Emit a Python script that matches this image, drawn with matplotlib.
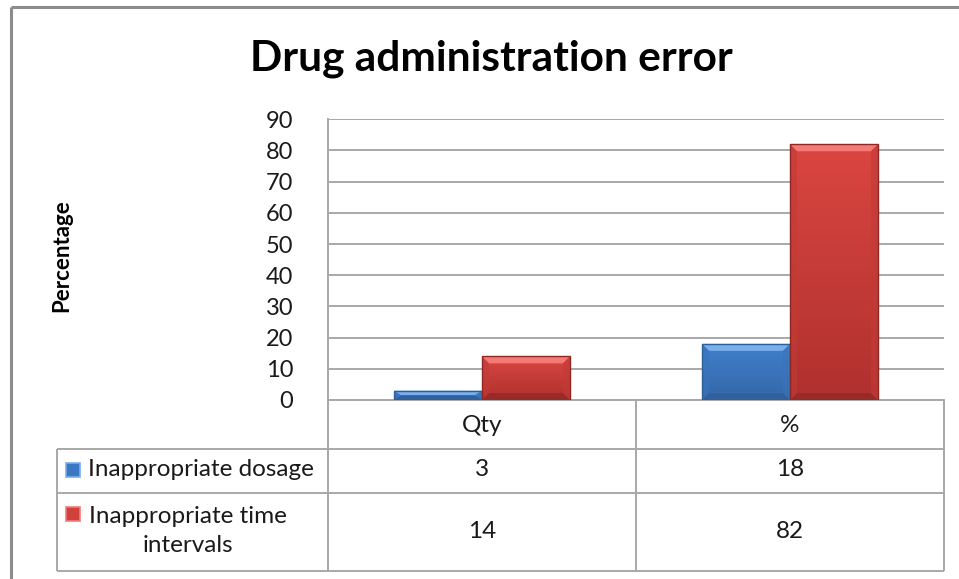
import numpy as np
import matplotlib
matplotlib.use('Agg')
import matplotlib.pyplot as plt
from matplotlib.patches import Polygon, Rectangle
from matplotlib.colors import LinearSegmentedColormap

# ---------------- data ----------------
categories = ['Qty', '%']
series_names = ['Inappropriate dosage', 'Inappropriate time\nintervals']
dosage = [3, 18]
time_intervals = [14, 82]
yticks = list(range(0, 100, 10))
title = 'Drug administration error'
ylabel = 'Percentage'

# ---------------- styles ----------------
W, H = 959, 579
FONT = ['Lato', 'DejaVu Sans']
plt.rcParams['font.family'] = FONT
GRID = '#A8A8A8'
TXT = '#1a1a1a'
FS = 17.5
styles = [
    dict(base='#3C78C2', top='#4080CC', bot='#3468A8', light='#79AFEB', dark='#30609E', side='#3A74BA', edge='#2E5E98'),
    dict(base='#D0403C', top='#DA4641', bot='#B0312E', light='#F47A75', dark='#982B28', side='#C23B37', edge='#8E2825'),
]

fig = plt.figure(figsize=(W / 100, H / 100), dpi=100)


def fx(px):
    return px / W


def fy(py):
    return 1 - py / H


ax = fig.add_axes([fx(328), fy(400), fx(944) - fx(328), fy(119.3) - fy(400)])
x = np.arange(len(categories))
bw = 88 / 308
bars = [
    ax.bar(x - bw / 2, dosage, bw, color=styles[0]['base'], zorder=3, linewidth=0),
    ax.bar(x + bw / 2, time_intervals, bw, color=styles[1]['base'], zorder=3, linewidth=0),
]
ax.set_xlim(-0.5, len(categories) - 0.5)
ax.set_ylim(0, 90)
ax.set_yticks(yticks)
ax.set_xticks([])
ax.yaxis.grid(True, color=GRID, lw=1.4)
ax.set_axisbelow(True)
for s in ['top', 'right']:
    ax.spines[s].set_visible(False)
for s in ['left', 'bottom']:
    ax.spines[s].set_color(GRID)
    ax.spines[s].set_linewidth(1.4)
ax.tick_params(axis='y', length=0, pad=25, labelsize=17, labelcolor=TXT)


def bevel(ax, patch, st, px=7):
    x0, y0 = patch.get_x(), patch.get_y()
    w, h = patch.get_width(), patch.get_height()
    inv = ax.transData.inverted()
    p0 = inv.transform((0, 0))
    p1 = inv.transform((px, px))
    bx = min(p1[0] - p0[0], w / 2)
    by = min(p1[1] - p0[1], h / 2)
    cmap = LinearSegmentedColormap.from_list('g', [st['bot'], st['top']])
    im = ax.imshow(np.linspace(0, 1, 64).reshape(-1, 1), cmap=cmap, origin='lower',
                   extent=(x0, x0 + w, y0, y0 + h), aspect='auto', zorder=3.1)
    im.set_clip_path(patch)
    xt, yt = x0 + w, y0 + h
    ax.add_patch(Polygon([(x0, yt), (xt, yt), (xt - bx, yt - by), (x0 + bx, yt - by)],
                         closed=True, color=st['light'], lw=0, zorder=3.2))
    ax.add_patch(Polygon([(x0, y0), (xt, y0), (xt - bx, y0 + by), (x0 + bx, y0 + by)],
                         closed=True, color=st['dark'], lw=0, zorder=3.2))
    ax.add_patch(Polygon([(x0, y0), (x0 + bx, y0 + by), (x0 + bx, yt - by), (x0, yt)],
                         closed=True, color=st['side'], lw=0, alpha=0.6, zorder=3.2))
    ax.add_patch(Polygon([(xt, y0), (xt - bx, y0 + by), (xt - bx, yt - by), (xt, yt)],
                         closed=True, color=st['side'], lw=0, alpha=0.6, zorder=3.2))
    ax.add_patch(Rectangle((x0, y0), w, h, fill=False, ec=st['edge'], lw=1.0, zorder=3.3))


for bc, st in zip(bars, styles):
    for p in bc:
        bevel(ax, p, st)
ax.set_xlim(-0.5, len(categories) - 0.5)
ax.set_ylim(0, 90)

# ---------------- overlay (title, label, table, frame) ----------------
ov = fig.add_axes([0, 0, 1, 1], zorder=-1)
ov.set_xlim(0, W)
ov.set_ylim(H, 0)
ov.axis('off')

ov.text(491, 59, title, ha='center', va='center', fontsize=30.5, fontweight='bold', color='black')
ov.text(62, 256, ylabel, ha='center', va='center', rotation=90, fontsize=16,
        fontweight='bold', color='black')

# frame
ov.plot([11, W], [6.5, 6.5], color='#8C8C8C', lw=2.2, solid_capstyle='butt')
ov.plot([11, 11], [6.5, H], color='#8C8C8C', lw=2.2, solid_capstyle='butt')

# table grid
tl = dict(color=GRID, lw=1.4, solid_capstyle='butt')
col_x = [57, 328, 636, 944]
row_y = [400, 449, 493, 571]
for cx in col_x[1:]:
    ov.plot([cx, cx], [row_y[0], row_y[-1]], **tl)
ov.plot([col_x[0], col_x[0]], [row_y[1], row_y[-1]], **tl)
for ry in row_y[1:]:
    ov.plot([col_x[0], col_x[-1]], [ry, ry], **tl)

col_c = [(col_x[i + 1] + col_x[i + 2]) / 2 for i in range(len(categories))]
for c, cat in zip(col_c, categories):
    ov.text(c, 425, cat, ha='center', va='center', fontsize=FS, color=TXT)

row_vals = [dosage, time_intervals]
row_c = [470, 531]
key_y = [469.5, 513.5]
for r, (name, vals, st) in enumerate(zip(series_names, row_vals, styles)):
    ov.add_patch(Rectangle((66, key_y[r] - 7), 14, 14, fc=st['base'], ec=st['light'], lw=1.2))
    if '\n' in name:
        ov.text(188, row_c[r], name, ha='center', va='center', multialignment='center',
                fontsize=FS, color=TXT, linespacing=1.45)
    else:
        ov.text(88, row_c[r], name, ha='left', va='center', fontsize=FS, color=TXT)
    for c, v in zip(col_c, vals):
        ov.text(c, row_c[r], str(v), ha='center', va='center', fontsize=FS, color=TXT)

fig.savefig('out.png', dpi=100)
